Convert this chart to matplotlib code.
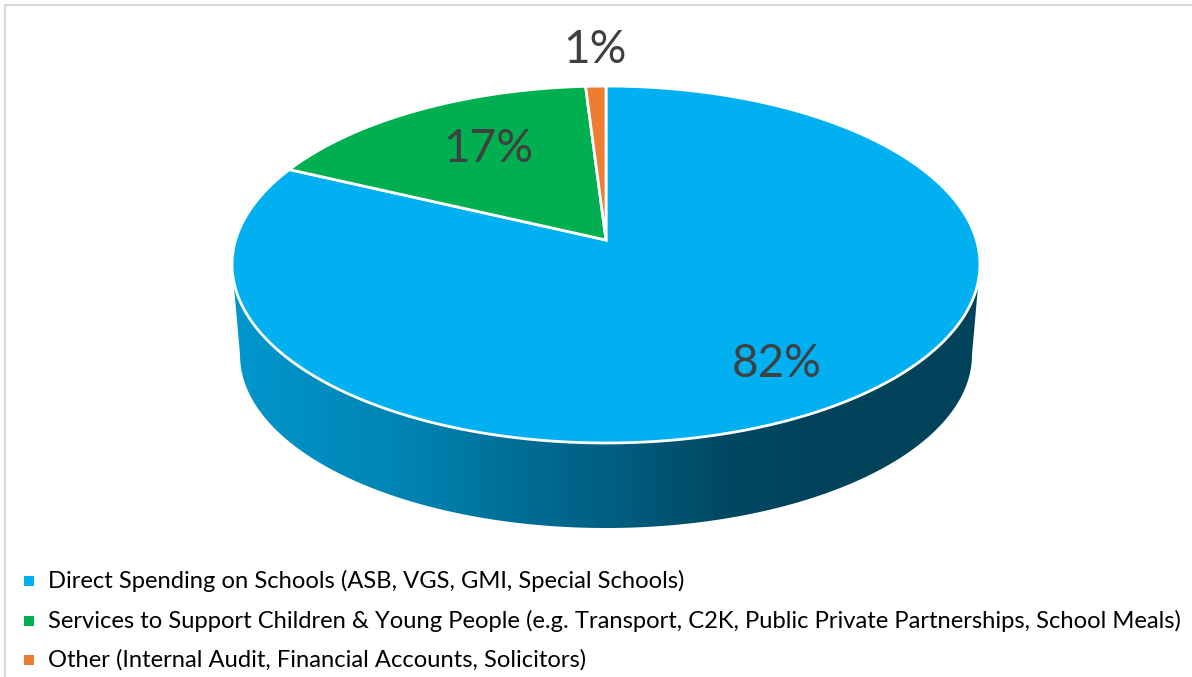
import numpy as np
import matplotlib
matplotlib.use("Agg")
import matplotlib.pyplot as plt
from matplotlib.patches import Polygon
from matplotlib.colors import to_rgb

# ---------------- data ----------------
categories = [
    "Direct Spending on Schools (ASB, VGS, GMI, Special Schools)",
    "Services to Support Children & Young People (e.g. Transport, C2K, Public Private Partnerships, School Meals)",
    "Other (Internal Audit, Financial Accounts, Solicitors)",
]
shares = [82, 17, 1]
pct_labels = ["82%", "17%", "1%"]

# ---------------- style ----------------
colors = ["#00B0F0", "#00B050", "#ED7D31"]
label_pos = [(777, 364), (488, 149), (595, 50)]
FONT = "Lato"

W, H = 1192, 677
fig = plt.figure(figsize=(W / 100, H / 100), dpi=100)
ax = fig.add_axes([0, 0, 1, 1])
ax.set_xlim(0, W)
ax.set_ylim(H, 0)
ax.axis("off")

# perspective disk geometry (screen pixels)
CX, CY = 606, 240
A, a, c = 370.4, 175.1, -0.1373
Ab, ab, CYb = 362.5, 169.7, 331.3


def top(theta):
    u = np.cos(theta)
    v = -np.sin(theta)
    d = 1 + c * v
    return CX + A * u / d, CY + a * v / d


def bot(theta):
    u = np.cos(theta)
    v = -np.sin(theta)
    d = 1 + c * v
    return CX + Ab * u / d, CYb + ab * v / d


fr = np.array(shares, float) / np.sum(shares)
cum = np.concatenate([[0], np.cumsum(fr)])
starts = np.pi / 2 - 2 * np.pi * cum[:-1]
ends = np.pi / 2 - 2 * np.pi * cum[1:]

# visible wall interval
tl = -np.pi - np.arcsin(c)
tr = np.arcsin(c)
vis_lo, vis_hi = min(tl, tr), max(tl, tr)

shade_x = [230, 420, 520, 606, 720, 800, 990]
shade_f = [0.86, 0.735, 0.62, 0.545, 0.415, 0.38, 0.375]

for i in range(len(shares)):
    for shift in (-2 * np.pi, 0, 2 * np.pi):
        lo = max(ends[i] + shift, vis_lo)
        hi = min(starts[i] + shift, vis_hi)
        if hi <= lo:
            continue
        t = np.linspace(hi, lo, 300)
        xt, yt = top(t)
        xb, yb = bot(t[::-1])
        poly = np.column_stack([np.concatenate([xt, xb]), np.concatenate([yt, yb])])
        patch = Polygon(poly, closed=True, facecolor="none", edgecolor="none", zorder=1)
        ax.add_patch(patch)
        xs = np.linspace(200, 1000, 800)
        f = np.interp(xs, shade_x, shade_f)
        base = np.array(to_rgb(colors[i]))
        img = (f[None, :, None] * base[None, None, :])
        img = np.repeat(img, 2, axis=0)
        im = ax.imshow(img, extent=[200, 1000, 560, 250], aspect="auto",
                       interpolation="bilinear", zorder=1)
        im.set_clip_path(patch)

ax.set_xlim(0, W)
ax.set_ylim(H, 0)

for i in range(len(shares)):
    t = np.linspace(starts[i], ends[i], 400)
    xt, yt = top(t)
    xs = np.concatenate([[CX], xt])
    ys = np.concatenate([[CY], yt])
    ax.fill(xs, ys, facecolor=colors[i], edgecolor="white", linewidth=2,
            joinstyle="miter", zorder=3)

for lab, (lx, ly) in zip(pct_labels, label_pos):
    ax.text(lx, ly, lab, fontsize=33, family=FONT, color="#404040",
            ha="center", va="center", zorder=5)

# legend
leg_y = [581, 621, 660]
for i, (name, y) in enumerate(zip(categories, leg_y)):
    ax.scatter([29], [y], marker="s", s=50, color=colors[i], zorder=5, linewidths=0)
    ax.text(48, y, name, fontsize=17.1, family=FONT, color="#000000",
            ha="left", va="center", zorder=5)

# chart border
ax.plot([5, 5, W], [H, 5, 5], color="#D9D9D9", linewidth=1.5, zorder=0)

fig.savefig("out.png", dpi=100)
